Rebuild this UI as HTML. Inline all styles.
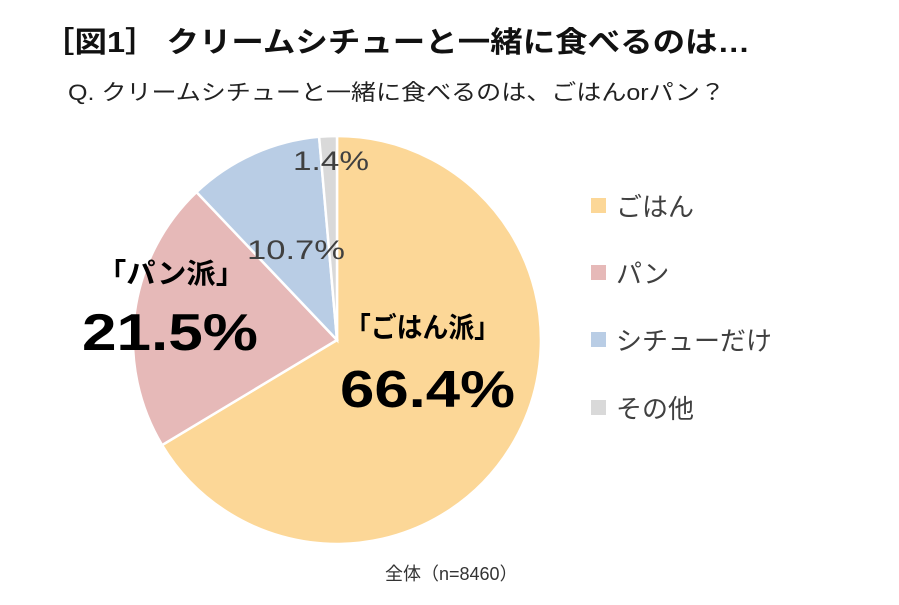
<!DOCTYPE html>
<html><head><meta charset="utf-8"><style>
body{margin:0;width:899px;height:600px;background:#fff;overflow:hidden;font-family:"Liberation Sans","Noto Sans CJK JP",sans-serif;}
</style></head><body>
<svg width="899" height="600" xmlns="http://www.w3.org/2000/svg" style="font-family:'Liberation Sans','Noto Sans CJK JP',sans-serif">
<text x="42" y="52" font-size="29" font-weight="bold" fill="#111" textLength="708" lengthAdjust="spacingAndGlyphs">［図1］ クリームシチューと一緒に食べるのは…</text>
<text x="68" y="100" font-size="22" fill="#222" textLength="657" lengthAdjust="spacingAndGlyphs">Q. クリームシチューと一緒に食べるのは、ごはんorパン？</text>
<g stroke="#fff" stroke-width="2.5">
<path d="M337,340 L337,136 A204,204 0 1 1 162.1,445.1 Z" fill="#FCD797"/>
<path d="M337,340 L162.1,445.1 A204,204 0 0 1 196.5,192.1 Z" fill="#E6B9B8"/>
<path d="M337,340 L196.5,192.1 A204,204 0 0 1 319.1,136.8 Z" fill="#B9CDE5"/>
<path d="M337,340 L319.1,136.8 A204,204 0 0 1 337,136 Z" fill="#D9D9D9"/>
</g>
<text x="293" y="170" font-size="27" fill="#404040" textLength="76" lengthAdjust="spacingAndGlyphs">1.4%</text>
<text x="247" y="259" font-size="27" fill="#404040" textLength="98" lengthAdjust="spacingAndGlyphs">10.7%</text>
<text x="97" y="283" font-size="28" font-weight="bold" fill="#000" textLength="148" lengthAdjust="spacingAndGlyphs">「パン派」</text>
<text x="82" y="350" font-size="52" font-weight="bold" fill="#000" textLength="176" lengthAdjust="spacingAndGlyphs">21.5%</text>
<text x="345" y="337" font-size="28" font-weight="bold" fill="#000" textLength="155" lengthAdjust="spacingAndGlyphs">「ごはん派」</text>
<text x="340" y="407" font-size="52" font-weight="bold" fill="#000" textLength="175" lengthAdjust="spacingAndGlyphs">66.4%</text>
<rect x="591" y="198" width="15" height="15" fill="#FCD797"/>
<text x="616" y="216" font-size="26" fill="#404040">ごはん</text>
<rect x="591" y="265" width="15" height="15" fill="#E6B9B8"/>
<text x="616" y="283" font-size="26" fill="#404040">パン</text>
<rect x="591" y="332" width="15" height="15" fill="#B9CDE5"/>
<text x="616" y="350" font-size="26" fill="#404040">シチューだけ</text>
<rect x="591" y="400" width="15" height="15" fill="#D9D9D9"/>
<text x="616" y="418" font-size="26" fill="#404040">その他</text>
<text x="385" y="580" font-size="18" fill="#333">全体（n=8460）</text>
</svg>
</body></html>
